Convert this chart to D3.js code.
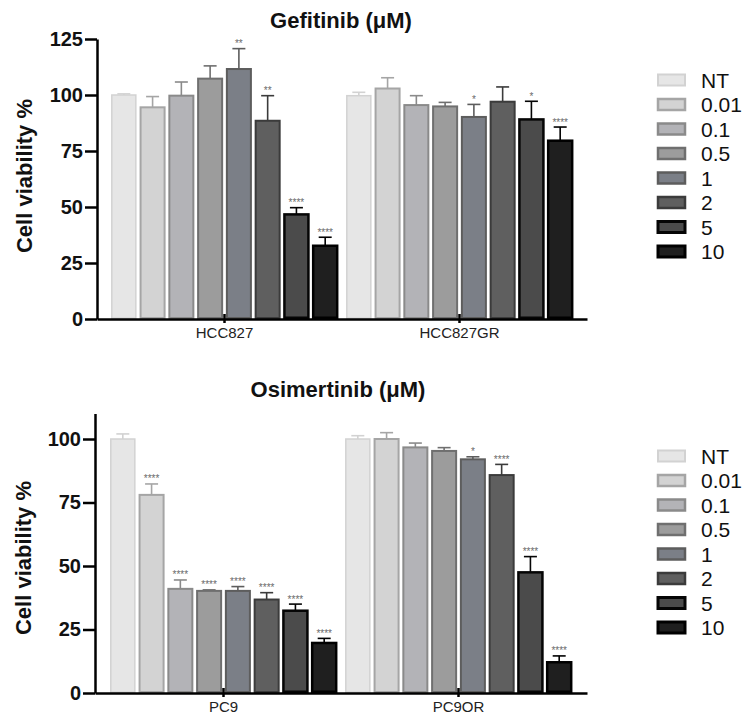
<!DOCTYPE html>
<html>
<head>
<meta charset="utf-8">
<script src="https://cdn.jsdelivr.net/npm/d3@7/dist/d3.min.js"></script>
<style>
  html, body { margin: 0; padding: 0; background: #fff; }
  svg { display: block; font-family: "Liberation Sans", Arial, sans-serif; }
</style>
</head>
<body>
<svg id="chart" width="749" height="718"></svg>
<script>
// Doses (µM) shown as series in both panels
const doses = ["NT", "0.01", "0.1", "0.5", "1", "2", "5", "10"];

// Gefitinib panel
const gefGroups = ["HCC827", "HCC827GR"];
const gefHCC827 = [100, 94.5, 99.7, 107.3, 111.6, 88.5, 46.7, 32.7];
const gefHCC827Err = [0.5, 4.8, 6.1, 5.7, 9.1, 11.2, 3.0, 3.8];
const gefHCC827Sig = ["", "", "", "", "**", "**", "****", "****"];
const gefHCC827GR = [99.7, 102.9, 95.5, 94.9, 90.2, 97.0, 89.1, 79.6];
const gefHCC827GRErr = [1.5, 4.8, 4.2, 1.8, 5.6, 6.6, 8.1, 6.1];
const gefHCC827GRSig = ["", "", "", "", "*", "", "*", "****"];
const gefTicks = [0, 25, 50, 75, 100, 125];

// Osimertinib panel
const osiGroups = ["PC9", "PC9OR"];
const osiPC9 = [100, 78, 41, 40.2, 40.2, 36.8, 32.4, 19.7];
const osiPC9Err = [2, 4.3, 3.5, 0.4, 1.7, 2.7, 2.6, 1.8];
const osiPC9Sig = ["", "****", "****", "****", "****", "****", "****", "****"];
const osiPC9OR = [100, 100, 96.7, 95.3, 92, 85.8, 47.5, 12.1];
const osiPC9ORErr = [1.3, 2.5, 1.7, 1.3, 1.0, 4.2, 6.2, 2.5];
const osiPC9ORSig = ["", "", "", "", "*", "****", "****", "****"];
const osiTicks = [0, 25, 50, 75, 100];

// Grey ramp for the dose series
const fills   = ["#e6e6e6", "#d3d3d3", "#b3b3b7", "#9c9c9c", "#7b7f87", "#5f5f5f", "#4b4b4b", "#1f1f1f"];
const strokes = ["#d2d2d2", "#a5a5a5", "#8a8a8a", "#6f6f6f", "#5d5d5d", "#3b3b3b", "#050505", "#000000"];
const strokeW = [1.5, 2, 2, 2, 2, 2, 2.5, 2.5];

const svg = d3.select("#chart");

function panel(opt) {
  const g = svg.append("g");
  const y = d3.scaleLinear().domain([0, opt.yMax]).range([opt.y0, opt.yTop]);
  const x0 = d3.scaleBand().domain(opt.groups).range([opt.xLeft, opt.xRight]).paddingInner(0).paddingOuter(opt.outer);
  const x1 = d3.scaleBand().domain(doses).range([2.5, x0.bandwidth() - 2.5]).paddingInner(0.165).paddingOuter(0.08);

  opt.groups.forEach((grp, gi) => {
    const vals = opt.values[gi], errs = opt.errors[gi], sig = opt.sig[gi];
    const gg = g.append("g").attr("transform", `translate(${x0(grp)},0)`);
    const rows = doses.map((d, i) => ({ d, i, v: vals[i], e: errs[i], s: sig[i] }));

    // error bars (upper only)
    const eb = gg.selectAll("g.err").data(rows).join("g").attr("class", "err");
    eb.append("line")
      .attr("x1", r => x1(r.d) + x1.bandwidth() / 2).attr("x2", r => x1(r.d) + x1.bandwidth() / 2)
      .attr("y1", r => y(r.v)).attr("y2", r => y(r.v + r.e))
      .attr("stroke", r => strokes[r.i]).attr("stroke-width", 1.6);
    eb.append("line")
      .attr("x1", r => x1(r.d) + x1.bandwidth() / 2 - 6.5).attr("x2", r => x1(r.d) + x1.bandwidth() / 2 + 6.5)
      .attr("y1", r => y(r.v + r.e)).attr("y2", r => y(r.v + r.e))
      .attr("stroke", r => strokes[r.i]).attr("stroke-width", 1.6);

    // bars
    gg.selectAll("rect").data(rows).join("rect")
      .attr("x", r => x1(r.d)).attr("width", x1.bandwidth())
      .attr("y", r => y(r.v)).attr("height", r => y(0) - y(r.v) - strokeW[r.i] / 2)
      .attr("fill", r => fills[r.i]).attr("stroke", r => strokes[r.i]).attr("stroke-width", r => strokeW[r.i]);

    // significance marks
    gg.selectAll("text.sig").data(rows.filter(r => r.s)).join("text").attr("class", "sig")
      .attr("x", r => x1(r.d) + x1.bandwidth() / 2).attr("y", r => y(r.v + r.e) - 1.5)
      .attr("text-anchor", "middle").attr("font-size", 10).attr("fill", "#6a6a6a")
      .text(r => r.s);
  });

  // y axis
  const ya = g.append("g").attr("transform", `translate(${opt.xLeft},0)`)
    .call(d3.axisLeft(y).tickValues(opt.ticks).tickSize(12).tickPadding(2).tickSizeOuter(0));
  ya.select(".domain").attr("stroke", "#000").attr("stroke-width", 2.5);
  ya.selectAll(".tick line").attr("stroke", "#000").attr("stroke-width", 2.5);
  ya.selectAll(".tick text").attr("font-size", 20).attr("font-weight", "bold").attr("fill", "#111")
    .attr("font-family", "Liberation Sans, Arial, sans-serif");

  // x axis
  const xa = g.append("g").attr("transform", `translate(0,${opt.y0})`)
    .call(d3.axisBottom(x0).tickSize(4).tickSizeOuter(0).tickPadding(4));
  xa.select(".domain").attr("stroke", "#000").attr("stroke-width", 2.5);
  xa.selectAll(".tick line").attr("stroke", "#000").attr("stroke-width", 2.5).attr("y1", -5).attr("y2", 4);
  xa.selectAll(".tick text").attr("font-size", 15).attr("fill", "#222")
    .attr("font-family", "Liberation Sans, Arial, sans-serif");

  // y title
  g.append("text")
    .attr("transform", `translate(${opt.yTitleX},${opt.yTitleY}) rotate(-90)`)
    .attr("text-anchor", "middle").attr("font-size", 22).attr("font-weight", "bold").attr("fill", "#111")
    .text("Cell viability %");

  // panel title
  g.append("text").attr("x", opt.titleX).attr("y", opt.titleY)
    .attr("text-anchor", "middle").attr("font-size", 22).attr("font-weight", "bold").attr("fill", "#111")
    .text(opt.title);

  // legend
  const lg = g.append("g");
  doses.forEach((d, i) => {
    const cy = opt.legY + i * 24.5;
    lg.append("rect").attr("x", 658).attr("y", cy - 5.5).attr("width", 27).attr("height", 11)
      .attr("fill", fills[i]).attr("stroke", strokes[i]).attr("stroke-width", strokeW[i] + 0.5);
    lg.append("text").attr("x", 701).attr("y", cy + 7.5).attr("font-size", 21).attr("fill", "#111").text(d);
  });
}

panel({
  title: "Gefitinib (\u03bcM)", titleX: 341, titleY: 28,
  groups: gefGroups, values: [gefHCC827, gefHCC827GR], errors: [gefHCC827Err, gefHCC827GRErr],
  sig: [gefHCC827Sig, gefHCC827GRSig], ticks: gefTicks,
  yMax: 125, y0: 319, yTop: 39, xLeft: 97, xRight: 587, outer: 0.0426,
  yTitleX: 32, yTitleY: 176, legY: 80
});

panel({
  title: "Osimertinib (\u03bcM)", titleX: 338, titleY: 397,
  groups: osiGroups, values: [osiPC9, osiPC9OR], errors: [osiPC9Err, osiPC9ORErr],
  sig: [osiPC9Sig, osiPC9ORSig], ticks: osiTicks,
  yMax: 110, y0: 693, yTop: 413.6, xLeft: 95, xRight: 587, outer: 0.0468,
  yTitleX: 31, yTitleY: 558, legY: 456
});
</script>
</body>
</html>
